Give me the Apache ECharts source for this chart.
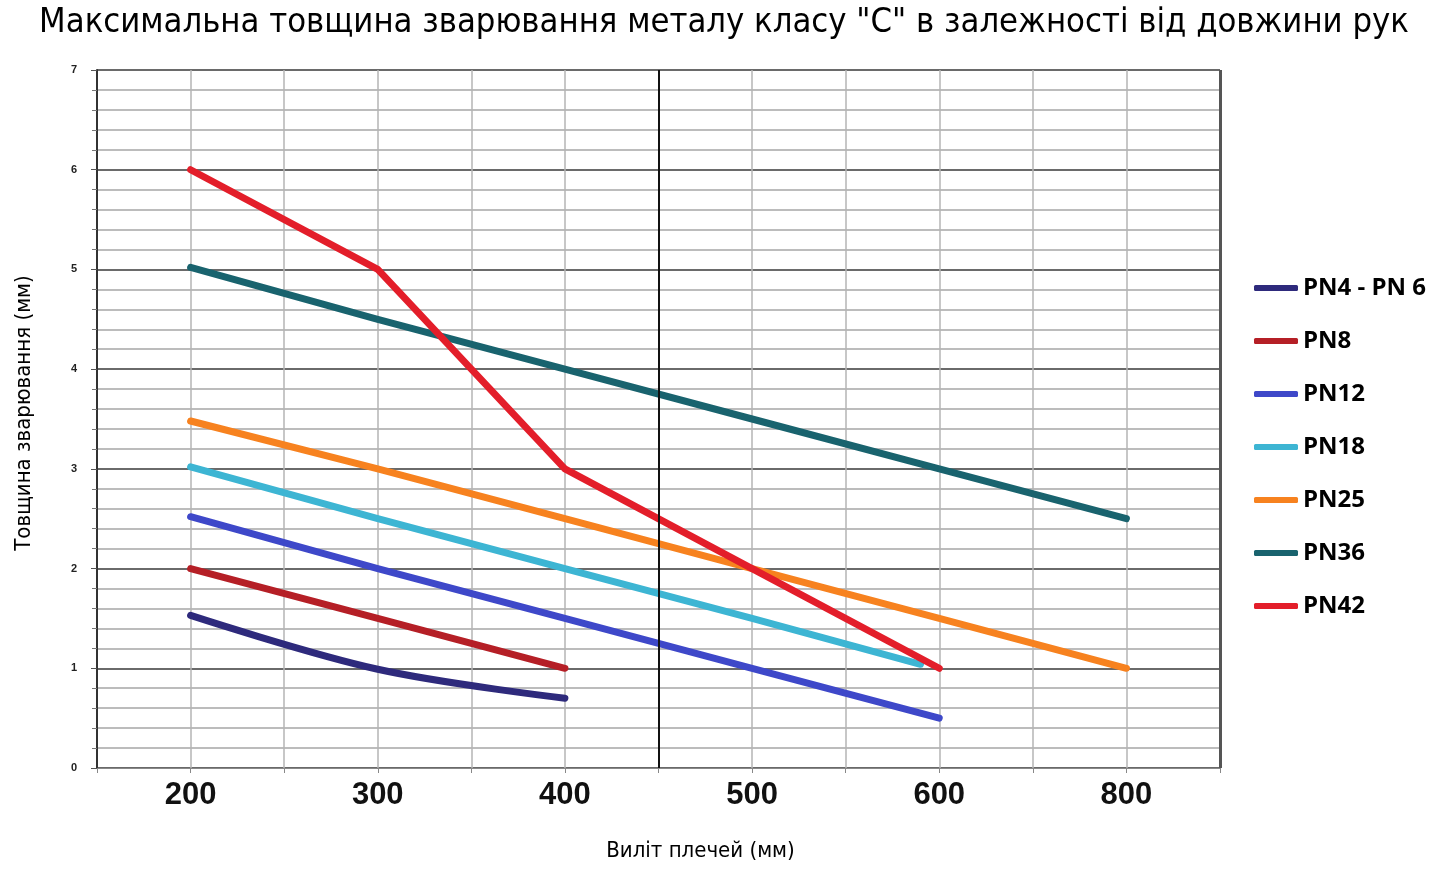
<!DOCTYPE html>
<html>
<head>
<meta charset="utf-8">
<title>Максимальна товщина зварювання</title>
<script src="https://cdn.jsdelivr.net/npm/echarts@6/dist/echarts.min.js"></script>
<style>
  html, body { margin: 0; padding: 0; background: #fff; }
  #chart { width: 1448px; height: 874px; }
</style>
</head>
<body>
<div id="chart"></div>
<script>
// назви серій
const seriesNames = ['PN4 - PN 6', 'PN8', 'PN12', 'PN18', 'PN25', 'PN36', 'PN42']

// точки [виліт, товщина]
const pn4_6 = [[200, 1.53], [300, 0.99], [400, 0.7]]
const pn8 = [[200, 2.0], [300, 1.5], [400, 1.0]]
const pn12 = [[200, 2.52], [300, 2.0], [400, 1.5], [500, 1.0], [600, 0.5]]
const pn18 = [[200, 3.02], [300, 2.5], [400, 2.0], [500, 1.5], [590, 1.04]]
const pn25 = [[200, 3.48], [300, 3.0], [400, 2.5], [500, 2.0], [600, 1.5], [700, 1.0]]
const pn36 = [[200, 5.02], [300, 4.5], [400, 4.0], [500, 3.5], [600, 3.0], [700, 2.5]]
const pn42 = [[200, 6.0], [300, 5.0], [400, 3.0], [500, 2.0], [600, 1.0]]

// підписи осі X (позиція 700 підписана як 800)
const xTickLabels = { 200: '200', 300: '300', 400: '400', 500: '500', 600: '600', 700: '800' }

const seriesData = [pn4_6, pn8, pn12, pn18, pn25, pn36, pn42]
const colors = ['#2e2a7c', '#b51f26', '#3e48c9', '#3db5d3', '#f7821f', '#19636e', '#e31e2a']

const chart = echarts.init(document.getElementById('chart'))

const series = seriesNames.map((name, i) => ({
  name,
  type: 'line',
  data: seriesData[i],
  smooth: i === 0 ? 0.35 : false,
  showSymbol: false,
  color: colors[i],
  lineStyle: { width: 7, color: colors[i], cap: 'round', join: 'round' }
}))

// темні вертикальні лінії сітки
series[0].markLine = {
  silent: true,
  symbol: 'none',
  label: { show: false },
  animation: false,
  data: [
    { xAxis: 450, lineStyle: { color: '#111', width: 2, type: 'solid' } },
    { xAxis: 750, lineStyle: { color: '#555', width: 3, type: 'solid' } }
  ]
}

const option = {
  animation: false,
  title: {
    text: 'Максимальна товщина зварювання металу класу "С" в залежності від довжини рук',
    left: 'center',
    top: 1,
    textStyle: {
      fontFamily: 'DejaVu Sans Condensed',
      fontSize: 34.3,
      fontWeight: 'normal',
      color: '#000'
    }
  },
  legend: {
    orient: 'vertical',
    left: 1249,
    top: 270,
    itemWidth: 44,
    itemHeight: 6,
    itemGap: 27,
    icon: 'roundRect',
    textStyle: {
      fontFamily: 'Open Sans',
      fontSize: 24,
      fontWeight: 'bold',
      color: '#000',
      lineHeight: 26
    },
    data: seriesNames
  },
  grid: {
    left: 97,
    right: 228,
    top: 70,
    bottom: 106
  },
  xAxis: {
    type: 'value',
    min: 150,
    max: 750,
    interval: 50,
    name: 'Виліт плечей (мм)',
    nameLocation: 'middle',
    nameGap: 72,
    nameTextStyle: {
      fontFamily: 'DejaVu Sans Condensed',
      fontSize: 22,
      color: '#000',
      padding: [0, 0, 0, 84]
    },
    axisLine: { show: true, lineStyle: { color: '#888', width: 1 } },
    axisTick: { show: true, length: 5, lineStyle: { color: '#888' } },
    axisLabel: {
      margin: 12,
      fontFamily: 'Liberation Sans',
      fontSize: 31,
      fontWeight: 'bold',
      color: '#111',
      formatter: v => xTickLabels[v] || ''
    },
    splitLine: { show: true, lineStyle: { color: '#b4b4b4', width: 1.5 } }
  },
  yAxis: {
    type: 'value',
    min: 0,
    max: 7,
    interval: 1,
    name: 'Товщина зварювання (мм)',
    nameLocation: 'middle',
    nameGap: 62,
    nameTextStyle: {
      fontFamily: 'DejaVu Sans Condensed',
      fontSize: 22,
      color: '#000',
      padding: [0, 0, 0, 12]
    },
    axisLine: { show: true, lineStyle: { color: '#333', width: 2 } },
    axisTick: { show: true, length: 6, lineStyle: { color: '#555' } },
    minorTick: { show: true, splitNumber: 5, length: 5, lineStyle: { color: '#777' } },
    axisLabel: {
      margin: 20,
      fontFamily: 'Liberation Sans',
      fontSize: 11,
      fontWeight: 'bold',
      color: '#222'
    },
    splitLine: { show: true, lineStyle: { color: '#6a6a6a', width: 2 } },
    minorSplitLine: { show: true, lineStyle: { color: '#a6a6a6', width: 1.5 } }
  },
  series
}

chart.setOption(option)
window.addEventListener('resize', () => chart.resize())
</script>
</body>
</html>
